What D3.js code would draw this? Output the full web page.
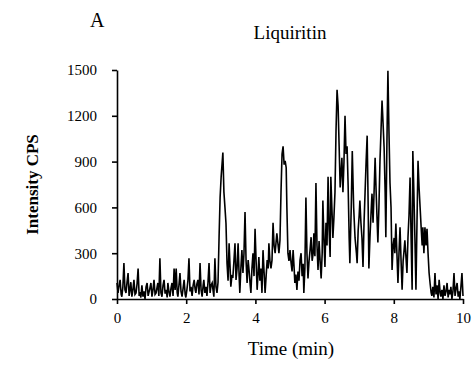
<!DOCTYPE html>
<html>
<head>
<meta charset="utf-8">
<script src="https://cdn.jsdelivr.net/npm/d3@7"></script>
<style>
  body { margin: 0; background: #fff; }
  text { font-family: "Liberation Serif", "Times New Roman", serif; }
</style>
</head>
<body>
<script>
// 画布尺寸
var w = 476;
var h = 365;
var margin = { top: 70, right: 13, bottom: 66, left: 117 };

// 坐标轴刻度
var xTicks = [0, 2, 4, 6, 8, 10];
var yTicks = [0, 300, 600, 900, 1200, 1500];

// 色谱数据：时间 (min)
var times = [
  0.00, 0.03, 0.06, 0.09, 0.12, 0.14, 0.17, 0.20, 0.23, 0.26, 0.29, 0.32, 0.35, 0.38, 0.40, 0.43,
  0.46, 0.49, 0.52, 0.55, 0.58, 0.61, 0.64, 0.66, 0.69, 0.72, 0.75, 0.78, 0.81, 0.84, 0.87, 0.90,
  0.92, 0.95, 0.98, 1.01, 1.04, 1.07, 1.10, 1.13, 1.16, 1.18, 1.21, 1.24, 1.27, 1.30, 1.33, 1.36,
  1.39, 1.42, 1.45, 1.47, 1.50, 1.53, 1.56, 1.59, 1.62, 1.65, 1.68, 1.71, 1.74, 1.76, 1.79, 1.82,
  1.85, 1.88, 1.91, 1.94, 1.97, 1.99, 2.02, 2.05, 2.08, 2.11, 2.14, 2.17, 2.20, 2.23, 2.26, 2.28,
  2.31, 2.34, 2.37, 2.40, 2.43, 2.46, 2.49, 2.51, 2.54, 2.57, 2.60, 2.63, 2.66, 2.69, 2.72, 2.75,
  2.78, 2.80, 2.83, 2.86, 2.89, 2.92, 2.95, 2.98, 3.01, 3.06, 3.09, 3.12, 3.15, 3.18, 3.21, 3.24,
  3.27, 3.29, 3.32, 3.35, 3.38, 3.41, 3.44, 3.47, 3.50, 3.53, 3.55, 3.58, 3.61, 3.64, 3.67, 3.70,
  3.73, 3.76, 3.79, 3.82, 3.85, 3.87, 3.90, 3.93, 3.96, 3.99, 4.02, 4.05, 4.08, 4.10, 4.13, 4.16,
  4.19, 4.22, 4.25, 4.28, 4.31, 4.34, 4.37, 4.39, 4.42, 4.45, 4.48, 4.51, 4.54, 4.57, 4.60, 4.62,
  4.65, 4.68, 4.71, 4.74, 4.77, 4.80, 4.83, 4.86, 4.89, 4.91, 4.94, 4.97, 5.00, 5.03, 5.06, 5.09,
  5.12, 5.14, 5.17, 5.20, 5.23, 5.26, 5.29, 5.32, 5.35, 5.38, 5.40, 5.43, 5.46, 5.49, 5.52, 5.55,
  5.58, 5.61, 5.64, 5.67, 5.69, 5.72, 5.75, 5.78, 5.81, 5.84, 5.87, 5.90, 5.93, 5.95, 5.98, 6.01,
  6.04, 6.07, 6.10, 6.13, 6.16, 6.18, 6.21, 6.24, 6.27, 6.30, 6.33, 6.36, 6.39, 6.42, 6.45, 6.50,
  6.53, 6.56, 6.59, 6.62, 6.65, 6.68, 6.71, 6.73, 6.77, 6.80, 6.84, 6.88, 6.92, 6.94, 6.97, 7.00,
  7.02, 7.05, 7.08, 7.11, 7.14, 7.17, 7.20, 7.23, 7.26, 7.28, 7.31, 7.34, 7.37, 7.40, 7.43, 7.46,
  7.49, 7.52, 7.54, 7.57, 7.60, 7.63, 7.66, 7.69, 7.72, 7.75, 7.77, 7.80, 7.83, 7.86, 7.89, 7.92,
  7.95, 7.98, 8.01, 8.03, 8.06, 8.09, 8.12, 8.15, 8.18, 8.21, 8.24, 8.27, 8.29, 8.32, 8.35, 8.38,
  8.41, 8.44, 8.47, 8.50, 8.53, 8.55, 8.58, 8.61, 8.64, 8.67, 8.70, 8.73, 8.76, 8.79, 8.82, 8.84,
  8.87, 8.90, 8.93, 8.96, 8.99, 9.02, 9.05, 9.08, 9.10, 9.13, 9.16, 9.19, 9.22, 9.25, 9.28, 9.31,
  9.34, 9.36, 9.39, 9.42, 9.45, 9.48, 9.51, 9.54, 9.57, 9.60, 9.63, 9.65, 9.68, 9.71, 9.74, 9.77,
  9.80, 9.83, 9.86, 9.88, 9.91, 9.94, 9.97, 10.00
];

// 色谱数据：强度 (CPS)
var intensity = [
  105, 40, 90, 125, 30, 15, 80, 235, 60, 40, 110, 170, 20, 70, 110, 15,
  60, 125, 30, 40, 100, 200, 20, 45, 10, 90, 15, 50, 0, 80, 105, 20,
  40, 70, 105, 15, 60, 125, 30, 40, 80, 105, 20, 267, 40, 15, 90, 125,
  35, 60, 10, 105, 50, 15, 70, 105, 20, 200, 60, 200, 40, 15, 90, 170,
  50, 15, 70, 125, 30, 10, 60, 120, 267, 50, 80, 20, 90, 125, 60, 40,
  100, 125, 30, 235, 60, 15, 90, 125, 40, 80, 20, 110, 235, 40, 90, 105,
  50, 15, 267, 80, 40, 110, 405, 665, 800, 960, 700, 600, 495, 235, 120, 365,
  200, 80, 150, 145, 250, 365, 125, 200, 365, 150, 40, 200, 320, 170, 300, 570,
  250, 105, 255, 180, 90, 40, 200, 300, 150, 460, 250, 60, 180, 275, 120, 200,
  40, 320, 180, 40, 150, 255, 200, 365, 250, 200, 255, 500, 350, 300, 380, 430,
  365, 300, 385, 700, 950, 1000, 880, 905, 860, 600, 300, 250, 320, 240, 180, 320,
  200, 105, 160, 60, 180, 120, 255, 300, 150, 230, 40, 200, 665, 300, 135, 250,
  320, 405, 250, 300, 430, 280, 760, 350, 190, 380, 250, 135, 300, 645, 400, 210,
  500, 350, 800, 450, 275, 800, 600, 400, 535, 700, 1100, 1370, 1265, 1000, 730, 925,
  700, 900, 1200, 950, 1000, 745, 400, 235, 600, 970, 600, 400, 300, 235, 450, 550,
  645, 500, 400, 210, 500, 700, 900, 1070, 600, 200, 400, 550, 690, 500, 700, 925,
  700, 500, 370, 600, 900, 1100, 1300, 1150, 990, 700, 405, 1000, 1495, 1100, 760, 600,
  190, 350, 400, 300, 495, 300, 105, 300, 470, 250, 60, 250, 300, 385, 280, 170,
  405, 550, 795, 400, 60, 970, 700, 400, 60, 500, 905, 730, 600, 470, 350, 470,
  300, 470, 350, 460, 300, 170, 100, 40, 20, 80, 10, 170, 30, 90, 0, 125,
  40, 15, 60, 0, 90, 20, 50, 105, 10, 60, 30, 80, 0, 50, 170, 20,
  70, 105, 15, 50, 0, 80, 170, 20
];

var dataset = times.map(function (t, i) {
  return { time: t, value: intensity[i] };
});

var svg = d3.select("body").append("svg").attr("width", w).attr("height", h);

// 比例尺
var xScale = d3.scaleLinear().domain([0, 10]).range([margin.left, w - margin.right]);
var yScale = d3.scaleLinear().domain([0, 1500]).range([h - margin.bottom, margin.top]);

// 折线
var line = d3
  .line()
  .x(function (d) { return xScale(d.time); })
  .y(function (d) { return yScale(d.value); });

svg
  .append("path")
  .datum(dataset)
  .attr("d", line)
  .attr("fill", "none")
  .attr("stroke", "#000")
  .attr("stroke-width", 1.6)
  .attr("stroke-linejoin", "miter");

// X 轴
var xAxis = d3.axisBottom(xScale).tickValues(xTicks).tickFormat(d3.format("d"))
  .tickSize(5).tickSizeOuter(0).tickPadding(8);
var gx = svg
  .append("g")
  .attr("transform", "translate(0," + (h - margin.bottom) + ")")
  .call(xAxis);

// Y 轴（不带千位分隔符）
var yAxis = d3.axisLeft(yScale).tickValues(yTicks).tickFormat(d3.format("d"))
  .tickSize(5).tickSizeOuter(0).tickPadding(15);
var gy = svg
  .append("g")
  .attr("transform", "translate(" + margin.left + ",0)")
  .call(yAxis);

[gx, gy].forEach(function (g) {
  g.selectAll("path.domain").attr("stroke", "#000").attr("stroke-width", 1.6);
  g.selectAll(".tick line").attr("stroke", "#000").attr("stroke-width", 1.6);
  g.selectAll(".tick text")
    .attr("fill", "#000")
    .style("font-family", "'Liberation Serif', 'Times New Roman', serif")
    .style("font-size", "15px");
});

// 面板标记
svg.append("text").attr("x", 90).attr("y", 27).attr("font-size", "20px").text("A");

// 标题
svg
  .append("text")
  .attr("x", 290)
  .attr("y", 39)
  .attr("text-anchor", "middle")
  .attr("font-size", "19px")
  .text("Liquiritin");

// X 轴标题
svg
  .append("text")
  .attr("x", 291)
  .attr("y", 355)
  .attr("text-anchor", "middle")
  .attr("font-size", "19px")
  .text("Time (min)");

// Y 轴标题
svg
  .append("text")
  .attr("transform", "translate(38," + (margin.top + (h - margin.bottom - margin.top) / 2) + ") rotate(-90)")
  .attr("text-anchor", "middle")
  .attr("font-size", "17px")
  .attr("font-weight", "bold")
  .text("Intensity CPS");
</script>
</body>
</html>
